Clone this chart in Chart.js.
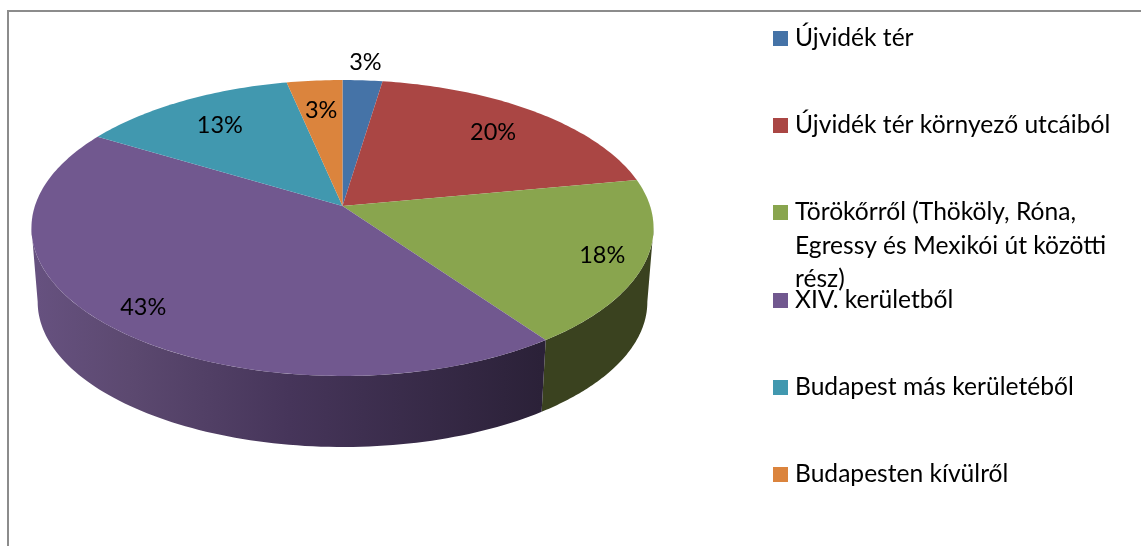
<!DOCTYPE html>
<html><head><meta charset="utf-8">
<style>html,body{margin:0;padding:0;background:#fff}canvas{display:block}</style>
<script src="https://cdn.jsdelivr.net/npm/chart.js@4"></script>
</head><body>
<canvas id="c" width="1141" height="546"></canvas>
<script>
const categories = ["Újvidék tér","Újvidék tér környező utcáiból",
  ["Törökőrről (Thököly, Róna,","Egressy és Mexikói út közötti","rész)"],
  "XIV. kerületből","Budapest más kerületéből","Budapesten kívülről"];
const values = [3,20,18,43,13,3];
const sliceColors = ["#4573A7","#AA4644","#89A54E","#71588F","#4198AF","#DB843D"];
const wallColors = [null,null,"#3A421F","purple",null,null];
// visual tweaks of the perspective view
const boundaryShiftDeg = [2.2,3.4,3.1,1.4,1.2,0];
const labelRadius = [1.14,.78,.86,.85,.77,.76];

const LABEL_FONT = '23.5px Lato, Carlito, sans-serif';
const LEGEND_FONT = '24.6px Lato, Carlito, sans-serif';
const k = 0.1486, A = 307.6, B = 144.7, CX = 342.5, CY = 206;
const project = t => { const u=Math.sin(t), v=Math.cos(t), d=1+k*v; return [CX+A*u/d, CY-B*v/d]; };
const projectLow = t => { const p=project(t); return [CX+(p[0]-CX)*.98, 302+(p[1]-228)*.98]; };
const rad = d => d*Math.PI/180;
const tanR = rad(98.5), tanL = rad(261.5);

const pie3d = {
  id:'pie3d',
  beforeDatasetsDraw(chart){
    const ctx = chart.ctx, arcs = chart.getDatasetMeta(0).data;
    ctx.save();
    // frame
    ctx.strokeStyle='#8c8c8c'; ctx.lineWidth=2;
    ctx.beginPath(); ctx.moveTo(8,546); ctx.lineTo(8,11); ctx.lineTo(1141,11); ctx.stroke();

    const edges = arcs.map((a,i)=>({
      s:(a.startAngle+Math.PI/2) - (i? rad(boundaryShiftDeg[i-1]):0),
      e:(a.endAngle+Math.PI/2) - rad(boundaryShiftDeg[i])
    }));
    // side walls
    edges.forEach((b,i)=>{
      if(!wallColors[i]) return;
      const s=Math.max(b.s,tanR), e=Math.min(b.e,tanL); if(e<=s) return;
      ctx.beginPath();
      const n=90;
      for(let j=0;j<=n;j++){const p=project(s+(e-s)*j/n); j?ctx.lineTo(p[0],p[1]):ctx.moveTo(p[0],p[1]);}
      for(let j=n;j>=0;j--){const p=projectLow(s+(e-s)*j/n); ctx.lineTo(p[0],p[1]);}
      ctx.closePath();
      if(wallColors[i]==='purple'){
        const g=ctx.createLinearGradient(38,0,541,0);
        g.addColorStop(0,'#66517F'); g.addColorStop(.18,'#5C4970'); g.addColorStop(.5,'#46355A'); g.addColorStop(1,'#2B2138');
        ctx.fillStyle=g;
      } else ctx.fillStyle=wallColors[i];
      ctx.fill();
    });
    // top faces
    edges.forEach((b,i)=>{
      ctx.beginPath(); ctx.moveTo(CX,CY);
      const n=Math.max(8,Math.ceil((b.e-b.s)*60));
      for(let j=0;j<=n;j++){const p=project(b.s+(b.e-b.s)*j/n); ctx.lineTo(p[0],p[1]);}
      ctx.closePath(); ctx.fillStyle=arcs[i].options.backgroundColor; ctx.fill();
    });
    // percentage labels
    ctx.fillStyle='#000'; ctx.font=LABEL_FONT; ctx.textAlign='center'; ctx.textBaseline='middle';
    edges.forEach((b,i)=>{
      const p=project((b.s+b.e)/2), r=labelRadius[i];
      ctx.fillText(values[i]+'%', CX+(p[0]-CX)*r, CY+(p[1]-CY)*r);
    });
    // legend
    ctx.font=LEGEND_FONT; ctx.textAlign='left'; ctx.textBaseline='alphabetic';
    chart.data.labels.forEach((lab,i)=>{
      const base=46+i*87.2;
      ctx.fillStyle=sliceColors[i]; ctx.fillRect(773,Math.round(base)-15,15,15);
      ctx.fillStyle='#000';
      [].concat(lab).forEach((t,j)=>ctx.fillText(t,795,base+j*33.5));
    });
    ctx.restore();
    return false;
  }
};
new Chart(document.getElementById('c'),{
  type:'pie',
  data:{labels:categories,datasets:[{data:values,backgroundColor:sliceColors,borderWidth:0}]},
  options:{responsive:false,animation:false,plugins:{legend:{display:false},tooltip:{enabled:false}}},
  plugins:[pie3d]
});
</script>
</body></html>
